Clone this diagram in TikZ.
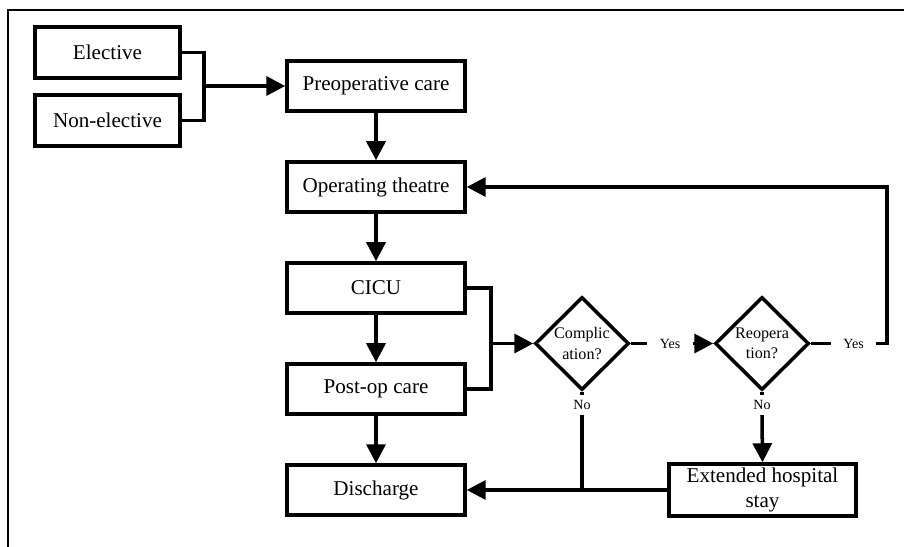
\documentclass[tikz,border=0pt]{standalone}
\usepackage{fontspec}
\setmainfont{Liberation Serif}
\usetikzlibrary{arrows.meta,positioning,shapes.geometric}

\tikzset{
  stepbox/.style={draw, line width=2pt, minimum width=3.56cm, minimum height=1.0cm,
    inner sep=1pt, align=center, font=\fontsize{12}{14.2}\selectfont},
  srcbox/.style={stepbox, minimum width=2.9cm, minimum height=1.02cm},
  decision/.style={draw, diamond, line width=2pt, minimum width=1.88cm, minimum height=1.86cm,
    inner sep=0pt, align=center, font=\fontsize{9.2}{11.4}\selectfont},
  answer/.style={inner xsep=0.24cm, inner ysep=0.1cm, font=\fontsize{8}{9}\selectfont},
  flowline/.style={line width=2pt},
  flowarrow/.style={flowline, -{Triangle[length=0.38cm, width=0.38cm]}},
}

\begin{document}
\begin{tikzpicture}
\begin{scope}[x=0.02cm, y=-0.02cm]
    \useasboundingbox (0,0) rectangle (904,547);

    % Frame (cropped at right and bottom)
    \draw[line width=1.6pt] (8,547) -- (8,10) -- (904,10);

    % Admission type
    \node[srcbox] (elective) at (107.5,52.5) {Elective};
    \node[srcbox] (nonelective) at (107.5,120.5) {Non-elective};

    % Main pathway
    \foreach \name/\y/\txt in {preop/86/Preoperative care, theatre/187/Operating theatre,
        cicu/288/CICU, postop/389/Post-op care, discharge/490/Discharge} {
        \node[stepbox] (\name) at (376,\y) {\txt};
    }

    % Decisions
    \node[decision] (complication) at (582,343.5) {Complic\\ation?};
    \node[decision] (reoperation) at (762,343.5) {Reopera\\tion?};
    \node[stepbox, minimum width=3.74cm, minimum height=1.04cm] (extended) at (762.5,490)
        {Extended hospital\\stay};

    % Answers
    \node[answer] (yescompl) at (670,343.5) {Yes};
    \node[answer] (yesreop) at (853.5,343.5) {Yes};
    \node[answer] (nocompl) at (582,405) {No};
    \node[answer] (noreop) at (762,405) {No};

    % Junction points
    \coordinate (admit) at (204,86);
    \coordinate (afterop) at (491,343.5);
    \coordinate (loopback) at (887,187);

    % Connectors
    \draw[flowline] (elective.east) -| (admit) |- (nonelective.east);
    \draw[flowarrow] (admit) -- (preop.west);
    \foreach \a/\b in {preop/theatre, theatre/cicu, cicu/postop, postop/discharge} {
        \draw[flowarrow] (\a) -- (\b);
    }
    \draw[flowline] (cicu.east) -| (afterop) |- (postop.east);
    \draw[flowarrow] (afterop) -- (complication.west);

    \draw[flowline] (complication.south) -- (nocompl.north);
    \draw[flowline] (complication.east) -- (yescompl.west);
    \draw[flowarrow] (yescompl.east) -- (reoperation.west);
    \draw[flowline] (reoperation.east) -- (yesreop.west);
    \draw[flowarrow] (yesreop.east) -| (loopback) -- (theatre.east);

    \draw[flowline] (nocompl.south) -- (nocompl.south |- discharge.east);
    \draw[flowline] (reoperation.south) -- (noreop.north);
    \draw[flowarrow] (noreop.south) -- (extended.north);
    \draw[flowarrow] (extended.west) -- (discharge.east);
\end{scope}
\end{tikzpicture}
\end{document}
